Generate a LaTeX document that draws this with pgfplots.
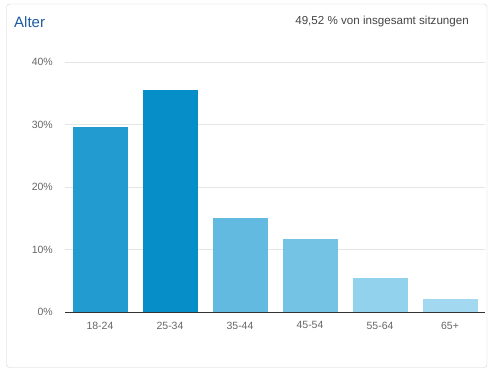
\documentclass[border=0pt]{standalone}
\usepackage{pgfplots}
\pgfplotsset{compat=1.18}
\usepackage{fontspec}
\setmainfont{Liberation Sans}
\definecolor{cA}{HTML}{219BD0}
\definecolor{cB}{HTML}{058EC8}
\definecolor{cC}{HTML}{63BAE0}
\definecolor{cD}{HTML}{74C2E4}
\definecolor{cE}{HTML}{93D2ED}
\definecolor{cF}{HTML}{A3D9F0}
\definecolor{titleblue}{HTML}{1C5C9F}
\definecolor{txt}{HTML}{444444}
\definecolor{ticktxt}{HTML}{666666}
\begin{document}
\begin{tikzpicture}
\path (0pt,0pt) rectangle (494pt,372pt);
\draw[color=black!18, rounded corners=3pt] (6.5pt,4.5pt) rectangle (487pt,368pt);
\node[anchor=base west, inner sep=0pt, text=titleblue, font=\fontsize{15}{18}\selectfont] at (14pt,344pt) {Alter};
\node[anchor=base east, inner sep=0pt, text=txt, font=\fontsize{11.6}{14}\selectfont] at (469pt,347pt) {49,52 \% von insgesamt sitzungen};
\begin{axis}[
  at={(65pt,60pt)}, anchor=south west,
  scale only axis, width=420pt, height=250pt,
  xmin=-0.5, xmax=5.5, ymin=0, ymax=40,
  ybar, bar width=55pt,
  axis line style={draw=none},
  major tick length=0pt,
  xtick={0,1,2,3,4,5},
  xticklabels={18-24,25-34,35-44,45-54,55-64,65+},
  ytick={0,10,20,30,40},
  yticklabels={0\%,10\%,20\%,30\%,40\%},
  ymajorgrids, major grid style={color=black!10, line width=0.8pt},
  tick label style={text=ticktxt, font=\fontsize{10.5}{12}\selectfont},
  xticklabel style={anchor=north, inner sep=0pt, yshift=-9.5pt},
  yticklabel style={anchor=east, inner sep=0pt, xshift=-12pt},
  clip=false,
]
\addplot[fill=cA, draw=none, bar shift=0pt] coordinates {(0,29.6)};
\addplot[fill=cB, draw=none, bar shift=0pt] coordinates {(1,35.5)};
\addplot[fill=cC, draw=none, bar shift=0pt] coordinates {(2,15.0)};
\addplot[fill=cD, draw=none, bar shift=0pt] coordinates {(3,11.7)};
\addplot[fill=cE, draw=none, bar shift=0pt] coordinates {(4,5.4)};
\addplot[fill=cF, draw=none, bar shift=0pt] coordinates {(5,2.1)};
\draw[color=black!80, line width=1pt] (axis cs:-0.5,0) -- (axis cs:5.5,0);
\end{axis}
\end{tikzpicture}
\end{document}
